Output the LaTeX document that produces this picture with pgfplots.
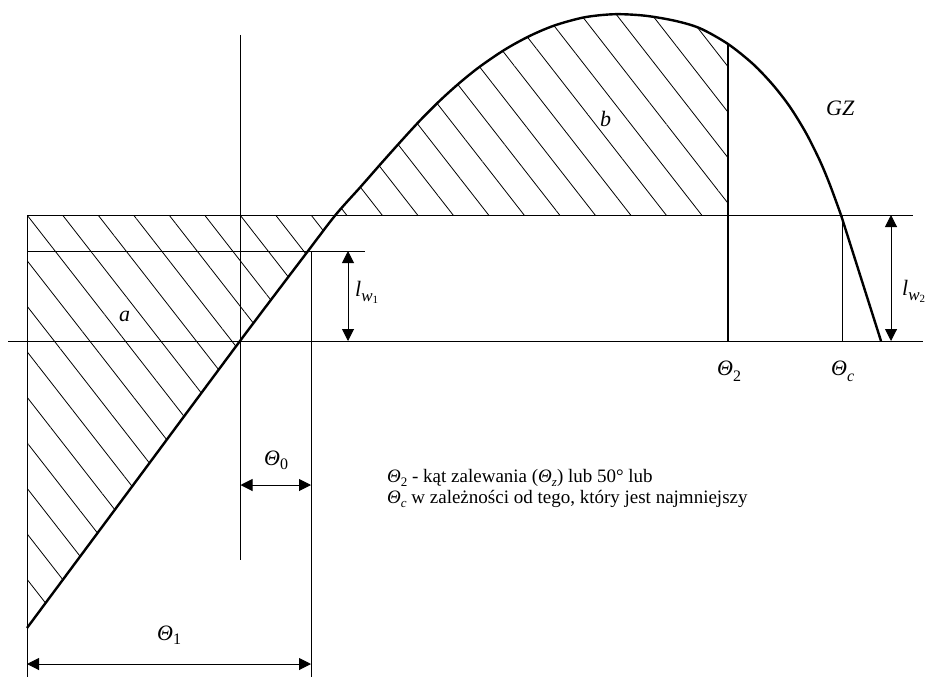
\documentclass[border=0pt]{standalone}
\usepackage{fontspec}
\setmainfont{Liberation Serif}
\usepackage{pgfplots}
\pgfplotsset{compat=1.18}
\usetikzlibrary{arrows.meta,patterns.meta}

% dimension arrows and hatching
\tikzset{
  dim/.style={line width=1pt,{Triangle[length=12pt,width=12pt]}-{Triangle[length=12pt,width=12pt]}},
  hatch/.style={draw=none,pattern={Lines[angle=-52.05,distance=28pt,xshift=27pt,yshift=462pt,line width=0.8pt]}},
  lbl/.style={font=\fontsize{22}{22}\selectfont\itshape,inner sep=0pt,anchor=base west},
  note/.style={font=\fontsize{19}{21.5}\selectfont,inner sep=0pt,anchor=base west},
}
% Theta with a lowered index: big labels, note text
\newcommand\ThL[2][-6pt]{\textit{Θ}\raisebox{#1}{\fontsize{16}{16}\selectfont\upshape #2}}
\newcommand\ThN[1]{\textit{Θ}\raisebox{-4pt}{\fontsize{13}{13}\selectfont #1}}
\newcommand\lw[1]{\textit{l}\raisebox{-5pt}{\fontsize{17}{17}\selectfont\textit{w}\raisebox{-2pt}{\fontsize{11}{11}\selectfont\upshape #1}}}

\begin{document}
\begin{tikzpicture}
\path[use as bounding box] (0,0) rectangle (925pt,677pt);
\begin{axis}[
  at={(0,0)}, anchor=south west,
  scale only axis, width=925pt, height=677pt,
  xmin=0, xmax=925, ymin=0, ymax=677,
  y dir=reverse, hide axis, clip=false,
]
% hatched areas a and b
\addplot[hatch] coordinates {(27,215) (335.5,215) (308,251) (240,341) (27,628)} -- cycle;
\addplot[hatch] coordinates {(335.5,215) (360,187.5) (380,164.7) (400,142.3) (420,120.5)
  (440,100.5) (460,82.5) (480,66.5) (505,49.5) (530,35.8) (555,25.3) (585,17.2)
  (615,14.2) (645,15.7) (675,20.8) (700,28.3) (728,44) (728,215)} -- cycle;

% thin construction lines
\addplot[line width=1pt] coordinates {(8,341) (923,341)};
\addplot[line width=1pt] coordinates {(27,215) (913,215)};
\addplot[line width=1pt] coordinates {(27,251) (365,251)};
\addplot[line width=1pt] coordinates {(240.5,35) (240.5,560)};
\addplot[line width=1pt] coordinates {(27,215) (27,677)};
\addplot[line width=1pt] coordinates {(311,251) (311,677)};
\addplot[line width=1pt] coordinates {(842,215) (842,341)};
\addplot[line width=2.4pt] coordinates {(728,44) (728,341)};

% dimensions
\addplot[dim] coordinates {(348,251) (348,341)};
\addplot[dim] coordinates {(891,215) (891,341)};
\addplot[dim] coordinates {(240.5,485) (311,485)};
\addplot[dim] coordinates {(27,664) (311,664)};

% GZ curve
\addplot[line width=2.4pt,smooth] coordinates {(27,628) (130,489.3) (240,341) (308,251)
  (335.5,215) (360,187.5) (380,164.7) (400,142.3) (420,120.5) (440,100.5) (460,82.5)
  (480,66.5) (505,49.5) (530,35.8) (555,25.3) (585,17.2) (615,14.2) (645,15.7)
  (675,20.8) (700,28.3) (728,44) (753,64) (773,85) (790,107) (806,133) (820,161)
  (830,185) (841,215)};
\addplot[line width=2.4pt] coordinates {(841,215) (881,341)};

% labels
\node[lbl] at (119,321) {a};
\node[lbl] at (600,126) {b};
\node[lbl] at (826,115) {GZ};
\node[lbl] at (717,375) {\ThL{2}};
\node[lbl] at (831,375) {\ThL{\textit{c}}};
\node[lbl] at (264,465) {\ThL[-4pt]{0}};
\node[lbl] at (157,640) {\ThL[-4pt]{1}};
\node[lbl] at (355,296) {\lw{1}};
\node[lbl] at (902,295) {\lw{2}};
\node[note] at (387,482) {\begin{tabular}[t]{@{}l@{}}
  \ThN{2} - kąt zalewania (\ThN{\textit{z}}) lub 50° lub\\
  \ThN{\textit{c}} w zależności od tego, który jest najmniejszy
\end{tabular}};
\end{axis}
\end{tikzpicture}
\end{document}
